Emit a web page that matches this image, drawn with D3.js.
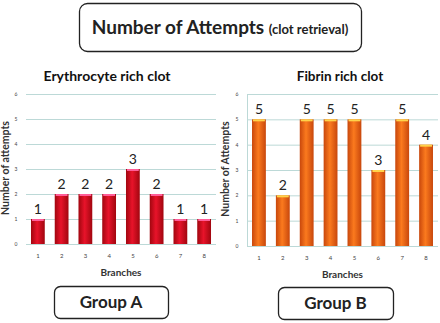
<!DOCTYPE html>
<html>
<head>
<meta charset="utf-8">
<script src="https://cdn.jsdelivr.net/npm/d3@7"></script>
<style>
  body { margin: 0; background: #fff; }
  svg { display: block; font-family: Lato, "Open Sans", sans-serif; }
</style>
</head>
<body>
<svg width="440" height="323"></svg>
<script>
'use strict';

const branches = ['1', '2', '3', '4', '5', '6', '7', '8']
const erythrocyteAttempts = [1, 2, 2, 2, 3, 2, 1, 1]
const fibrinAttempts = [5, 2, 5, 5, 5, 3, 5, 4]
const yTicks = [0, 1, 2, 3, 4, 5, 6]

const svg = d3.select('svg')
const defs = svg.append('defs')

function gradient(id, edge, mid) {
  const g = defs.append('linearGradient').attr('id', id)
    .attr('x1', 0).attr('x2', 1).attr('y1', 0).attr('y2', 0)
  g.append('stop').attr('offset', '0%').attr('stop-color', edge)
  g.append('stop').attr('offset', '45%').attr('stop-color', mid)
  g.append('stop').attr('offset', '100%').attr('stop-color', edge)
}
gradient('redGrad', '#a1060f', '#e8132a')
gradient('orangeGrad', '#c8470c', '#fb7a1e')

// title box
svg.append('rect')
  .attr('x', 79.5).attr('y', 3.5).attr('width', 282).attr('height', 48).attr('rx', 8)
  .style('fill', 'white').style('stroke', '#222').style('stroke-width', 1.3)
const title = svg.append('text').attr('x', 220).attr('y', 34).attr('text-anchor', 'middle')
  .style('fill', '#222').style('font-weight', 'bold')
title.append('tspan').style('font-size', '19px').text('Number of Attempts ')
title.append('tspan').style('font-size', '13px').text('(clot retrieval)')

function drawChart(opt) {
  const x = d3.scaleBand().domain(branches).range([opt.x0, opt.x1]).paddingInner(0.42).paddingOuter(0.21)
  const y = d3.scaleLinear().domain([0, 6]).range([opt.y0, opt.y1])
  const g = svg.append('g')

  g.append('text').attr('x', opt.cx).attr('y', 81).attr('text-anchor', 'middle')
    .style('font-weight', 'bold').style('font-size', opt.subSize).style('fill', '#111')
    .text(opt.subtitle)

  g.selectAll('line.grid').data(yTicks).enter().append('line').attr('class', 'grid')
    .attr('x1', opt.x0).attr('x2', opt.x1)
    .attr('y1', (d) => y(d) + 0.5).attr('y2', (d) => y(d) + 0.5)
    .style('stroke', '#bcd9d7').style('stroke-width', 1)

  if (opt.border) {
    g.append('line').attr('x1', opt.x0 + 0.5).attr('x2', opt.x0 + 0.5)
      .attr('y1', y(6)).attr('y2', y(0))
      .style('stroke', '#bcd9d7')
  }

  g.selectAll('text.ytick').data(yTicks).enter().append('text').attr('class', 'ytick')
    .attr('x', opt.x0 - 10).attr('y', (d) => y(d) + 2).attr('text-anchor', 'middle')
    .style('font-size', '5px').style('fill', '#444').text((d) => d)

  const bars = g.selectAll('g.bar').data(opt.values).enter().append('g').attr('class', 'bar')
  bars.append('rect')
    .attr('x', (d, i) => x(branches[i])).attr('width', x.bandwidth())
    .attr('y', (d) => y(d)).attr('height', (d) => y(0) - y(d))
    .style('fill', `url(#${opt.grad})`)
  bars.append('rect')
    .attr('x', (d, i) => x(branches[i]) + 1).attr('width', x.bandwidth() - 2)
    .attr('y', (d) => y(d)).attr('height', 2)
    .style('fill', opt.cap)
  bars.append('text')
    .attr('x', (d, i) => x(branches[i]) + x.bandwidth() / 2).attr('y', (d) => y(d) - 5)
    .attr('text-anchor', 'middle').style('font-size', '14px').style('fill', '#222')
    .text((d) => d)

  g.selectAll('text.xtick').data(branches).enter().append('text').attr('class', 'xtick')
    .attr('x', (d) => x(d) + x.bandwidth() / 2).attr('y', opt.y0 + 14).attr('text-anchor', 'middle')
    .style('font-size', '6px').style('fill', '#444').text((d) => d)

  g.append('text').attr('x', (opt.x0 + opt.x1) / 2).attr('y', opt.y0 + 32).attr('text-anchor', 'middle')
    .style('font-size', '10px').style('font-weight', 'bold').style('fill', '#333').text('Branches')

  g.append('text').attr('transform', `translate(${opt.ylx},${(opt.y0 + opt.y1) / 2 - 1}) rotate(-90)`)
    .attr('text-anchor', 'middle')
    .style('font-size', '10.5px').style('font-weight', 'bold').style('fill', '#333').text(opt.ylabel)

  g.append('rect').attr('x', opt.box[0] + 0.5).attr('y', opt.box[1] + 0.5)
    .attr('width', opt.box[2]).attr('height', opt.box[3]).attr('rx', 6)
    .style('fill', 'white').style('stroke', '#222').style('stroke-width', 1.3)
  g.append('text').attr('x', opt.box[0] + opt.box[2] / 2).attr('y', opt.box[1] + opt.box[3] / 2 + 6)
    .attr('text-anchor', 'middle').style('font-size', '17px').style('font-weight', 'bold').style('fill', '#222')
    .text(opt.group)
}

drawChart({
  subtitle: 'Erythrocyte rich clot', subSize: '14px', cx: 107, values: erythrocyteAttempts,
  x0: 26, x1: 216, y0: 244, y1: 94, grad: 'redGrad', cap: '#ff5d98',
  ylabel: 'Number of attempts', ylx: 9, border: false,
  box: [54, 286, 114, 32], group: 'Group A'
})
drawChart({
  subtitle: 'Fibrin rich clot', subSize: '13.5px', cx: 340, values: fibrinAttempts,
  x0: 247, x1: 438, y0: 246, y1: 94, grad: 'orangeGrad', cap: '#ffd34a',
  ylabel: 'Number of Attempts', ylx: 229, border: true,
  box: [278, 287, 115, 32], group: 'Group B'
})
</script>
</body>
</html>
